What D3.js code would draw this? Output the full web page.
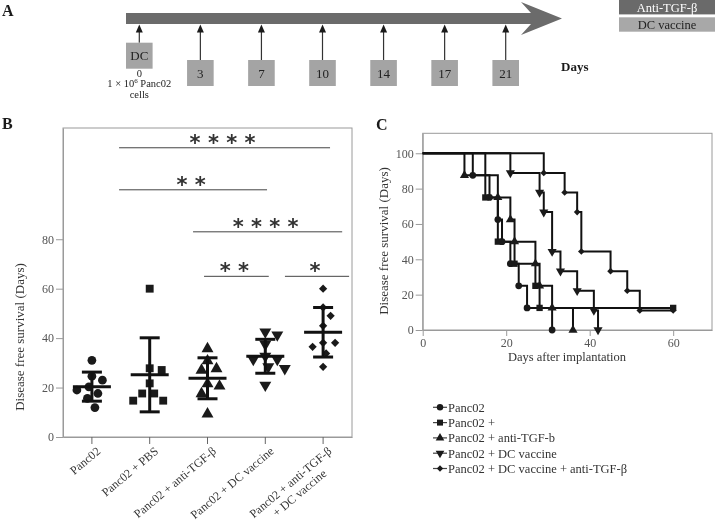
<!DOCTYPE html>
<html><head><meta charset="utf-8">
<script src="https://cdn.jsdelivr.net/npm/d3@7"></script>
<style>
body{margin:0;background:#fff}
svg{display:block;will-change:transform;opacity:0.999}
svg text{font-family:"Liberation Serif","Times New Roman",serif;-webkit-font-smoothing:antialiased}
svg text.star{font-family:"DejaVu Sans","Liberation Sans",sans-serif;font-weight:bold}
</style>
</head><body>
<svg id="c" width="715" height="521"></svg>
<script>
// ---------------- DATA ----------------
// Panel A: treatment schedule
const scheduleDays = ["0", "3", "7", "10", "14", "17", "21"];
const scheduleBoxText = ["DC", "3", "7", "10", "14", "17", "21"];
const treatmentLegend = ["Anti-TGF-β", "DC vaccine"];

// Panel B: disease free survival (days) per mouse
const groupsB = ["Panc02", "Panc02 + PBS", "Panc02 + anti-TGF-β", "Panc02 + DC vaccine", "Panc02 + anti-TGF-β|+ DC vaccine"];
const panc02DFS = [31, 24.6, 23, 20.3, 19, 17.6, 15.6, 11.9];
const pbsDFS = [60, 27.8, 27.1, 21.7, 17.6, 17.6, 14.7, 14.7];
const antiTgfDFS = [35.7, 30.8, 27.6, 27, 21.5, 20.6, 17.5, 9.3];
const dcDFS = [42.5, 41.3, 37.5, 32.7, 31.4, 31.4, 28.4, 27.7, 21];
const comboDFS = [60, 52.4, 49, 45, 38.1, 38.1, 36.5, 33.8, 28.4];
const yTicksB = [0, 20, 40, 60, 80];
// significance comparisons: from / to (category units), level (days), label
const bracketFrom = [0.47, 0.47, 1.75, 1.94, 3.34];
const bracketTo = [4.12, 3.03, 4.33, 3.06, 4.45];
const bracketLevel = [117, 100, 83, 65, 65];
const bracketLabel = ["* * * *", "* *", "* * * *", "* *", "*"];

// Panel C: Kaplan-Meier curves (day, % disease free)
const kmNames = ["Panc02", "Panc02 +", "Panc02 + anti-TGF-b", "Panc02 + DC vaccine", "Panc02 + DC vaccine + anti-TGF-β"];
const panc02Days = [0, 12, 16, 18, 19, 21, 23, 25, 31];
const panc02Surv = [100, 87.5, 75, 62.5, 50, 37.5, 25, 12.5, 0];
const pbsDays = [0, 15, 18, 22, 27, 28, 60];
const pbsSurv = [100, 75, 50, 37.5, 25, 12.5, 12.5];
const antiTgfDays = [0, 10, 18, 21, 22, 27, 28, 31, 36];
const antiTgfSurv = [100, 87.5, 75, 62.5, 50, 37.5, 25, 12.5, 0];
const dcDays = [0, 21, 28, 29, 31, 33, 37, 41, 42];
const dcSurv = [100, 88.9, 77.8, 66.7, 44.4, 33.3, 22.2, 11.1, 0];
const comboDays = [0, 29, 34, 37, 38, 45, 49, 52, 60];
const comboSurv = [100, 88.9, 77.8, 66.7, 44.4, 33.3, 22.2, 11.1, 11.1];
const xTicksC = [0, 20, 40, 60];
const yTicksC = [0, 20, 40, 60, 80, 100];

// ---------------- DRAWING ----------------
const svg = d3.select("#c");
const ink = "#1a1a1a";
svg.append("rect").attr("width", 715).attr("height", 521).attr("fill", "#fff");

// Panel labels
svg.append("text").attr("x", 2).attr("y", 16).attr("font-size", 16).attr("font-weight", "bold").attr("fill", ink).text("A");
svg.append("text").attr("x", 2).attr("y", 129).attr("font-size", 16).attr("font-weight", "bold").attr("fill", ink).text("B");
svg.append("text").attr("x", 376).attr("y", 130).attr("font-size", 16).attr("font-weight", "bold").attr("fill", ink).text("C");

// ===== Panel A =====
const gA = svg.append("g");
const xA = d3.scalePoint().domain(scheduleDays).range([139.3, 505.7]);
gA.append("path").attr("d", "M126,13 H531 L521,2 L562,18.5 L521,35 L531,24 H126 Z").attr("fill", "#6b6b6b");
scheduleDays.forEach((d, i) => {
  const cx = xA(d);
  const top = i === 0 ? 42.7 : 60;
  gA.append("line").attr("x1", cx).attr("x2", cx).attr("y1", top).attr("y2", 30).attr("stroke", "#333").attr("stroke-width", 1.2);
  gA.append("path").attr("d", `M${cx},24.5 L${cx - 3.5},32.5 L${cx + 3.5},32.5 Z`).attr("fill", ink);
  gA.append("rect").attr("x", cx - 13.3).attr("y", top).attr("width", 26.6).attr("height", 26).attr("fill", "#a4a4a4");
  gA.append("text").attr("x", cx).attr("y", top + 17.5).attr("text-anchor", "middle").attr("font-size", 13).attr("fill", "#222").text(scheduleBoxText[i]);
});
const x0 = xA(scheduleDays[0]);
gA.append("text").attr("x", x0).attr("y", 76.5).attr("text-anchor", "middle").attr("font-size", 10.5).attr("fill", "#222").text("0");
const t2 = gA.append("text").attr("x", x0).attr("y", 86.5).attr("text-anchor", "middle").attr("font-size", 10.5).attr("fill", "#222");
t2.append("tspan").text("1 × 10");
t2.append("tspan").attr("font-size", 7).attr("dy", -4).text("6");
t2.append("tspan").attr("dy", 4).text(" Panc02");
gA.append("text").attr("x", x0).attr("y", 98).attr("text-anchor", "middle").attr("font-size", 10.5).attr("fill", "#222").text("cells");
gA.append("text").attr("x", 561).attr("y", 71).attr("font-size", 13).attr("font-weight", "bold").attr("fill", ink).text("Days");
const legFill = ["#6a6a6a", "#a8a8a8"], legText = ["#fff", "#222"];
treatmentLegend.forEach((t, i) => {
  const y0 = i * 17.3;
  gA.append("rect").attr("x", 619).attr("y", y0).attr("width", 96).attr("height", 14.4).attr("fill", legFill[i]);
  gA.append("text").attr("x", 667).attr("y", y0 + 11.5).attr("text-anchor", "middle").attr("font-size", 12.5).attr("fill", legText[i]).text(t);
});

// ===== Panel B =====
const gB = svg.append("g");
const yB = d3.scaleLinear().domain([0, 125]).range([437, 128]);
const xB = d3.scaleBand().domain(groupsB).range([63, 352]);
const cB = g => xB(g) + xB.bandwidth() / 2;
const catX = d3.scaleLinear().domain([0, 1]).range([cB(groupsB[0]), cB(groupsB[1])]);

gB.append("rect").attr("x", 63).attr("y", 128).attr("width", 289).attr("height", 309).attr("fill", "none").attr("stroke", "#9a9a9a").attr("stroke-width", 1);
const axYB = gB.append("g").attr("transform", "translate(63,0)").call(d3.axisLeft(yB).tickValues(yTicksB).tickSize(7).tickPadding(2).tickSizeOuter(0));
axYB.attr("font-family", null);
axYB.select(".domain").attr("stroke", "#9a9a9a");
axYB.selectAll(".tick line").attr("stroke", "#9a9a9a");
axYB.selectAll(".tick text").attr("font-size", 12).attr("fill", "#555");
const axXB = gB.append("g").attr("transform", "translate(0,437)").call(d3.axisBottom(xB).tickSize(7).tickSizeOuter(0).tickFormat(""));
axXB.select(".domain").attr("stroke", "#9a9a9a");
axXB.selectAll(".tick line").attr("stroke", "#666");

// rotated category labels
groupsB.forEach(g => {
  const lines = g.split("|");
  const tg = gB.append("g").attr("transform", `translate(${cB(g) + 4},446) rotate(-40)`);
  const t1 = tg.append("text").attr("text-anchor", "end").attr("font-size", 12).attr("fill", "#333").attr("dy", "0.7em").text(lines[0]);
  if (lines.length > 1) {
    const len = t1.node().getComputedTextLength();
    tg.append("text").attr("text-anchor", "middle").attr("x", -len / 2).attr("font-size", 12).attr("fill", "#333").attr("dy", "1.85em").text(lines[1]);
  }
});
gB.append("text").attr("transform", "translate(24,337) rotate(-90)").attr("text-anchor", "middle").attr("font-size", 13).attr("fill", "#333").text("Disease free survival (Days)");

// brackets
bracketLabel.forEach((lab, i) => {
  const xa = catX(bracketFrom[i]), xb = catX(bracketTo[i]), yy = yB(bracketLevel[i]);
  gB.append("line").attr("x1", xa).attr("x2", xb).attr("y1", yy).attr("y2", yy).attr("stroke", "#444").attr("stroke-width", 1);
  gB.append("text").attr("class", "star").attr("x", (xa + xb) / 2 - 2).attr("y", yy + 2).attr("text-anchor", "middle")
    .attr("font-size", 21).attr("fill", "#333").text(lab);
});

// points with a simple swarm layout
const seriesB = [panc02DFS, pbsDFS, antiTgfDFS, dcDFS, comboDFS];
const symB = [
  {type: d3.symbolCircle, size: 60, rot: 0},
  {type: d3.symbolSquare, size: 62, rot: 0},
  {type: d3.symbolTriangle, size: 62, rot: 0},
  {type: d3.symbolTriangle, size: 62, rot: 180},
  {type: d3.symbolSquare, size: 34, rot: 45}
];
function swarm(vals, cx, minD) {
  const placed = [];
  vals.forEach(v => {
    const y = yB(v);
    let best = 0;
    for (let k = 0; k < 200; k++) {
      const off = k === 0 ? 0 : (k % 2 ? 1 : -1) * Math.ceil(k / 2) * 1.5;
      if (placed.every(p => Math.hypot(p.x - (cx + off), p.y - y) >= minD)) { best = off; break; }
    }
    placed.push({x: cx + best, y, v});
  });
  return placed;
}
seriesB.forEach((vals, gi) => {
  const cx = cB(groupsB[gi]);
  const pts = swarm(vals, cx, 11);
  const s = symB[gi];
  gB.selectAll(null).data(pts).join("path")
    .attr("d", d3.symbol().type(s.type).size(s.size))
    .attr("transform", d => `translate(${d.x},${d.y}) rotate(${s.rot})`)
    .attr("fill", ink);
  const m = d3.mean(vals), sd = d3.deviation(vals);
  const eb = gB.append("g").attr("stroke", "#111").attr("stroke-width", 3);
  eb.append("line").attr("x1", cx).attr("x2", cx).attr("y1", yB(m - sd)).attr("y2", yB(m + sd));
  eb.append("line").attr("x1", cx - 10).attr("x2", cx + 10).attr("y1", yB(m - sd)).attr("y2", yB(m - sd));
  eb.append("line").attr("x1", cx - 10).attr("x2", cx + 10).attr("y1", yB(m + sd)).attr("y2", yB(m + sd));
  eb.append("line").attr("x1", cx - 19).attr("x2", cx + 19).attr("y1", yB(m)).attr("y2", yB(m));
});

// ===== Panel C =====
const gC = svg.append("g");
const xC = d3.scaleLinear().domain([0, 69.3]).range([422.7, 712]);
const yC = d3.scaleLinear().domain([0, 111.3]).range([330, 133.3]);
gC.append("rect").attr("x", 422.7).attr("y", 133.3).attr("width", 289.3).attr("height", 196.7).attr("fill", "none").attr("stroke", "#9a9a9a");
const axYC = gC.append("g").attr("transform", "translate(422.7,0)").call(d3.axisLeft(yC).tickValues(yTicksC).tickSize(7).tickPadding(2).tickSizeOuter(0));
const axXC = gC.append("g").attr("transform", "translate(0,330)").call(d3.axisBottom(xC).tickValues(xTicksC).tickSize(6).tickPadding(2).tickSizeOuter(0));
[axYC, axXC].forEach(a => {
  a.attr("font-family", null);
  a.select(".domain").attr("stroke", "#9a9a9a");
  a.selectAll(".tick line").attr("stroke", "#9a9a9a");
  a.selectAll(".tick text").attr("font-size", 12).attr("fill", "#555");
});
gC.append("text").attr("x", 567).attr("y", 361).attr("text-anchor", "middle").attr("font-size", 12.5).attr("fill", "#333").text("Days after implantation");
gC.append("text").attr("transform", "translate(387.5,241) rotate(-90)").attr("text-anchor", "middle").attr("font-size", 13).attr("fill", "#333").text("Disease free survival (Days)");

const kmDays = [panc02Days, pbsDays, antiTgfDays, dcDays, comboDays];
const kmSurv = [panc02Surv, pbsSurv, antiTgfSurv, dcSurv, comboSurv];
const symC = [
  {type: d3.symbolCircle, size: 36, rot: 0},
  {type: d3.symbolSquare, size: 40, rot: 0},
  {type: d3.symbolTriangle, size: 36, rot: 0},
  {type: d3.symbolTriangle, size: 36, rot: 180},
  {type: d3.symbolSquare, size: 22, rot: 45}
];
const line = d3.line().curve(d3.curveStepAfter).x(d => xC(d.day)).y(d => yC(d.s));
kmDays.forEach((days, si) => {
  const pts = days.map((d, i) => ({day: d, s: kmSurv[si][i]}));
  gC.append("path").attr("d", line(pts)).attr("fill", "none").attr("stroke", "#111").attr("stroke-width", 2);
});
kmDays.forEach((days, si) => {
  const pts = days.map((d, i) => ({day: d, s: kmSurv[si][i]})).slice(1);
  const s = symC[si];
  gC.selectAll(null).data(pts).join("path")
    .attr("d", d3.symbol().type(s.type).size(s.size))
    .attr("transform", d => `translate(${xC(d.day)},${yC(d.s)}) rotate(${s.rot})`)
    .attr("fill", ink);
});

// legend
const legY = d3.scaleLinear().domain([0, 1]).range([407.3, 422.6]);
kmNames.forEach((n, i) => {
  const y = legY(i), s = symC[i];
  gC.append("line").attr("x1", 433).attr("x2", 447).attr("y1", y).attr("y2", y).attr("stroke", "#444").attr("stroke-width", 1.2);
  gC.append("path").attr("d", d3.symbol().type(s.type).size(s.size * 0.9)).attr("transform", `translate(440,${y}) rotate(${s.rot})`).attr("fill", ink);
  gC.append("text").attr("x", 448).attr("y", y + 4.5).attr("font-size", 12.5).attr("fill", "#333").text(n);
});
</script>
</body></html>
